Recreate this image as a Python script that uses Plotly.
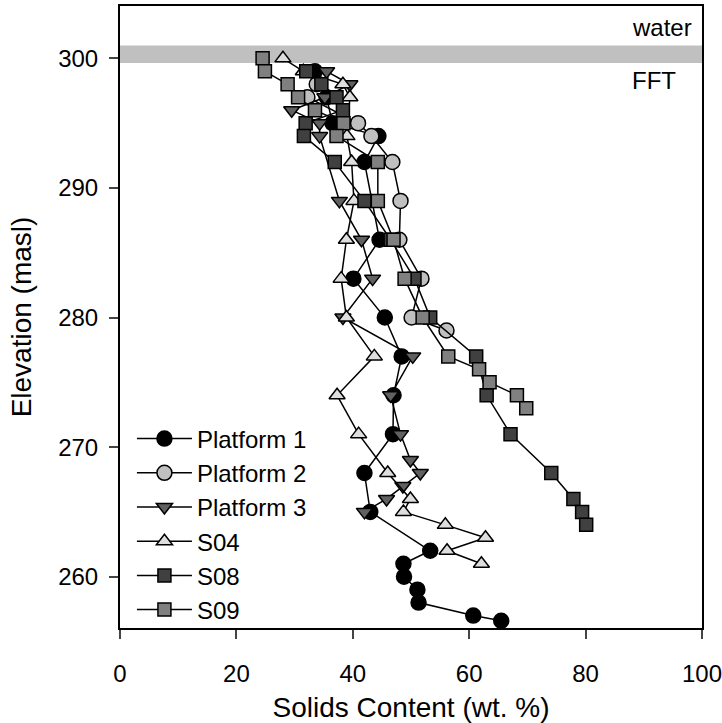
import plotly.graph_objects as go

# ---- data ----
p1_x = [33.5, 35.5, 36.5, 44.4, 42.0, 44.6, 40.1, 45.5, 48.4, 47.0, 46.9, 42.0, 43.0, 53.3, 48.7, 48.8, 51.1, 51.3, 60.7, 65.5]
p1_y = [299, 297, 295, 294, 292, 286, 283, 280, 277, 274, 271, 268, 265, 262, 261, 260, 259, 258, 257, 256.6]

p2_x = [33.8, 32.2, 40.9, 43.2, 46.8, 48.2, 48.0, 51.8, 50.1, 56.1]
p2_y = [298, 297, 295, 294, 292, 289, 286, 283, 280, 279]

p3_x = [35.5, 39.5, 35.2, 29.5, 34.3, 34.3, 37.7, 41.5, 43.4, 38.3, 50.3, 46.5, 48.2, 49.9, 51.6, 48.6, 45.8, 42.0]
p3_y = [299, 298, 297, 296, 295, 294, 289, 286, 283, 280, 277, 274, 271, 269, 268, 267, 266, 265]

s04_x = [28.0, 31.5, 38.3, 39.5, 39.0, 39.8, 40.2, 38.9, 38.0, 38.9, 43.7, 37.3, 41.0, 46.0, 49.9, 48.7, 55.9, 62.8, 56.2, 62.1]
s04_y = [300, 299, 298, 297, 294, 292, 289, 286, 283, 280, 277, 274, 271, 268, 266, 265, 264, 263, 262, 261]

s08_x = [32.0, 34.6, 37.2, 38.3, 31.9, 31.6, 36.9, 42.0, 46.5, 50.6, 53.3, 61.2, 63.0, 67.1, 74.1, 77.9, 79.4, 80.1]
s08_y = [299, 298, 297, 296, 295, 294, 292, 289, 286, 283, 280, 277, 274, 271, 268, 266, 265, 264]

s09_x = [24.5, 24.9, 28.8, 30.6, 33.5, 38.4, 37.2, 44.3, 44.3, 47.0, 48.9, 52.0, 56.4, 61.7, 63.5, 68.2, 69.8]
s09_y = [300, 299, 298, 297, 296, 295, 294, 292, 289, 286, 283, 280, 277, 276, 275, 274, 273]

x_ticks = [0, 20, 40, 60, 80, 100]
y_ticks = [260, 270, 280, 290, 300]
water_band = [299.65, 301.0]

series = [
    ("Platform 1", p1_x, p1_y, "circle", "#000000", 15),
    ("Platform 2", p2_x, p2_y, "circle", "#c0c0c0", 15),
    ("Platform 3", p3_x, p3_y, "triangle-down", "#606060", 14),
    ("S04", s04_x, s04_y, "triangle-up", "#dedede", 14),
    ("S08", s08_x, s08_y, "square", "#404040", 13),
    ("S09", s09_x, s09_y, "square", "#808080", 13),
]

FONT = "Liberation Sans, Arial, sans-serif"

fig = go.Figure()
for name, xs, ys, sym, col, sz in series:
    fig.add_trace(go.Scatter(
        x=xs, y=ys, name=name, mode="lines+markers",
        line=dict(color="black", width=1.5),
        marker=dict(symbol=sym, color=col, size=sz, line=dict(color="black", width=1.5)),
    ))

fig.add_shape(type="rect", xref="paper", x0=0, x1=1, yref="y",
              y0=water_band[0], y1=water_band[1],
              fillcolor="#c0c0c0", line=dict(width=0), layer="below")

fig.add_annotation(x=87.6, y=302.4, text="water", showarrow=False,
                   xanchor="left", yanchor="middle", font=dict(size=24, color="black", family=FONT))
fig.add_annotation(x=87.6, y=298.3, text="FFT", showarrow=False,
                   xanchor="left", yanchor="middle", font=dict(size=24, color="black", family=FONT))

fig.update_layout(
    width=722, height=723,
    margin=dict(l=120, r=20, t=6, b=95, autoexpand=False),
    paper_bgcolor="white", plot_bgcolor="white",
    font=dict(family=FONT, color="black"),
    showlegend=True,
    legend=dict(x=0.0205, y=0.340, xanchor="left", yanchor="top",
                bgcolor="rgba(0,0,0,0)", font=dict(size=24, family=FONT),
                itemwidth=55, tracegroupgap=0),
    xaxis=dict(range=[0, 100], tickvals=x_ticks, ticks="outside", ticklen=9, tickwidth=2,
               showline=True, linecolor="black", linewidth=2, mirror=True,
               showgrid=False, zeroline=False, ticklabelstandoff=14,
               ticklabeloverflow="allow", automargin=False,
               tickfont=dict(size=24, family=FONT),
               title=dict(text="Solids Content (wt. %)", font=dict(size=28, family=FONT), standoff=16)),
    yaxis=dict(range=[256.04, 304.04], tickvals=y_ticks, ticks="outside", ticklen=9, tickwidth=2,
               showline=True, linecolor="black", linewidth=2, mirror=True,
               showgrid=False, zeroline=False, ticklabelstandoff=6, automargin=False,
               tickfont=dict(size=24, family=FONT),
               title=dict(text="Elevation (masl)", font=dict(size=28, family=FONT), standoff=18)),
)

fig.write_html("out.html")
